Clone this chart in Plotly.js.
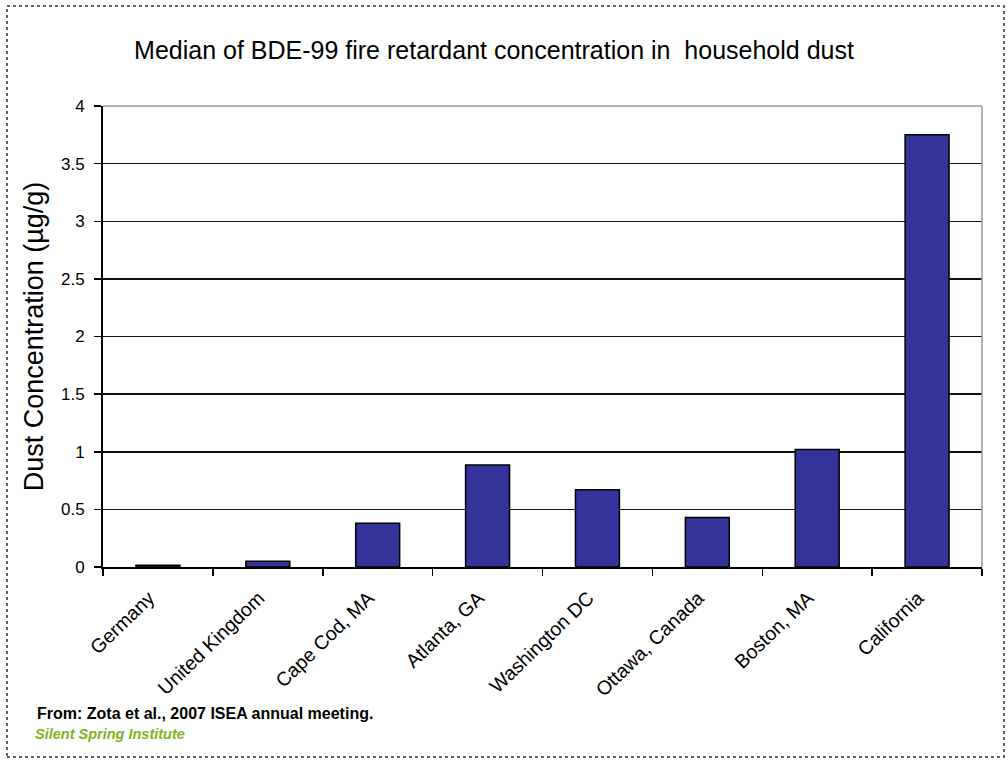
<!DOCTYPE html>
<html>
<head>
<meta charset="utf-8">
<script src="https://cdn.plot.ly/plotly-3.0.1.min.js"></script>
<style>
html,body{margin:0;padding:0;background:#fff;}
#chart{width:1008px;height:760px;}
</style>
</head>
<body>
<div id="chart"></div>
<script>
const categories = ["Germany", "United Kingdom", "Cape Cod, MA", "Atlanta, GA", "Washington DC", "Ottawa, Canada", "Boston, MA", "California"];
const medianValues = [0.015, 0.05, 0.38, 0.885, 0.67, 0.43, 1.02, 3.75];
const yTickValues = [0, 0.5, 1, 1.5, 2, 2.5, 3, 3.5, 4];
const yTickLabels = ["0", "0.5", "1", "1.5", "2", "2.5", "3", "3.5", "4"];
const chartTitle = "Median of BDE-99 fire retardant concentration in  household dust";
const yTitle = "Dust Concentration (µg/g)";
const sourceNote = "From: Zota et al., 2007 ISEA annual meeting.";
const creditNote = "Silent Spring Institute";

const W = 1008, H = 760;
const L = 103, R = 982, T = 106, B = 567;
const pw = R - L, ph = B - T;
const px = x => (x - L) / pw;
const py = y => (B - y) / ph;
const FONT = "Liberation Sans, Arial, sans-serif";

const trace = {
  type: "bar",
  x: categories,
  y: medianValues,
  width: 0.4,
  marker: {color: "#333399", line: {color: "#000000", width: 1.5}},
  hoverinfo: "x+y"
};

const layout = {
  width: W, height: H,
  margin: {l: L, r: W - R, t: T, b: H - B, pad: 0},
  paper_bgcolor: "#ffffff",
  plot_bgcolor: "#ffffff",
  showlegend: false,
  font: {family: FONT, color: "#000000", size: 16},
  title: {
    text: chartTitle,
    font: {family: FONT, size: 25, color: "#000"},
    x: 494 / W, xanchor: "center",
    y: 1 - 50 / H, yanchor: "middle",
    xref: "container", yref: "container"
  },
  xaxis: {
    type: "category",
    tickangle: -44,
    tickson: "boundaries",
    ticks: "outside",
    ticklen: 7,
    tickwidth: 1.5,
    tickcolor: "#000",
    ticklabelstandoff: 10,
    ticklabelshift: -9,
    showline: true,
    linecolor: "#000",
    linewidth: 2,
    showgrid: false,
    tickfont: {size: 19.5, family: FONT},
    fixedrange: true
  },
  yaxis: {
    range: [0, 4],
    tickvals: yTickValues,
    ticktext: yTickLabels,
    ticks: "outside",
    ticklen: 7,
    tickwidth: 1.5,
    tickcolor: "#000",
    ticklabelstandoff: 6,
    showline: true,
    linecolor: "#000",
    linewidth: 2,
    showgrid: true,
    gridcolor: "#111",
    gridwidth: 1.5,
    zeroline: false,
    tickfont: {size: 17, family: FONT},
    title: {text: yTitle, font: {size: 27, family: FONT}, standoff: 10},
    fixedrange: true
  },
  shapes: [
    {type: "line", xref: "paper", yref: "paper", x0: 0, x1: 1, y0: 1, y1: 1,
     line: {color: "#999999", width: 1.5}, layer: "above"},
    {type: "line", xref: "paper", yref: "paper", x0: 1, x1: 1, y0: 0, y1: 1,
     line: {color: "#999999", width: 1.5}, layer: "above"},
    {type: "rect", xref: "paper", yref: "paper",
     x0: px(7), x1: px(1004), y0: py(757), y1: py(6),
     line: {color: "#333333", width: 1.5, dash: "dot"}, fillcolor: "rgba(0,0,0,0)", layer: "below"}
  ],
  annotations: [
    {text: "<b>" + sourceNote + "</b>", xref: "paper", yref: "paper",
     x: px(35), y: py(713), xanchor: "left", yanchor: "middle", showarrow: false,
     font: {size: 16, color: "#000", family: FONT}},
    {text: "<b><i>" + creditNote + "</i></b>", xref: "paper", yref: "paper",
     x: px(33), y: py(734), xanchor: "left", yanchor: "middle", showarrow: false,
     font: {size: 14.5, color: "#7fb31a", family: FONT}}
  ]
};

Plotly.newPlot("chart", [trace], layout, {displayModeBar: false, staticPlot: true});
</script>
</body>
</html>
